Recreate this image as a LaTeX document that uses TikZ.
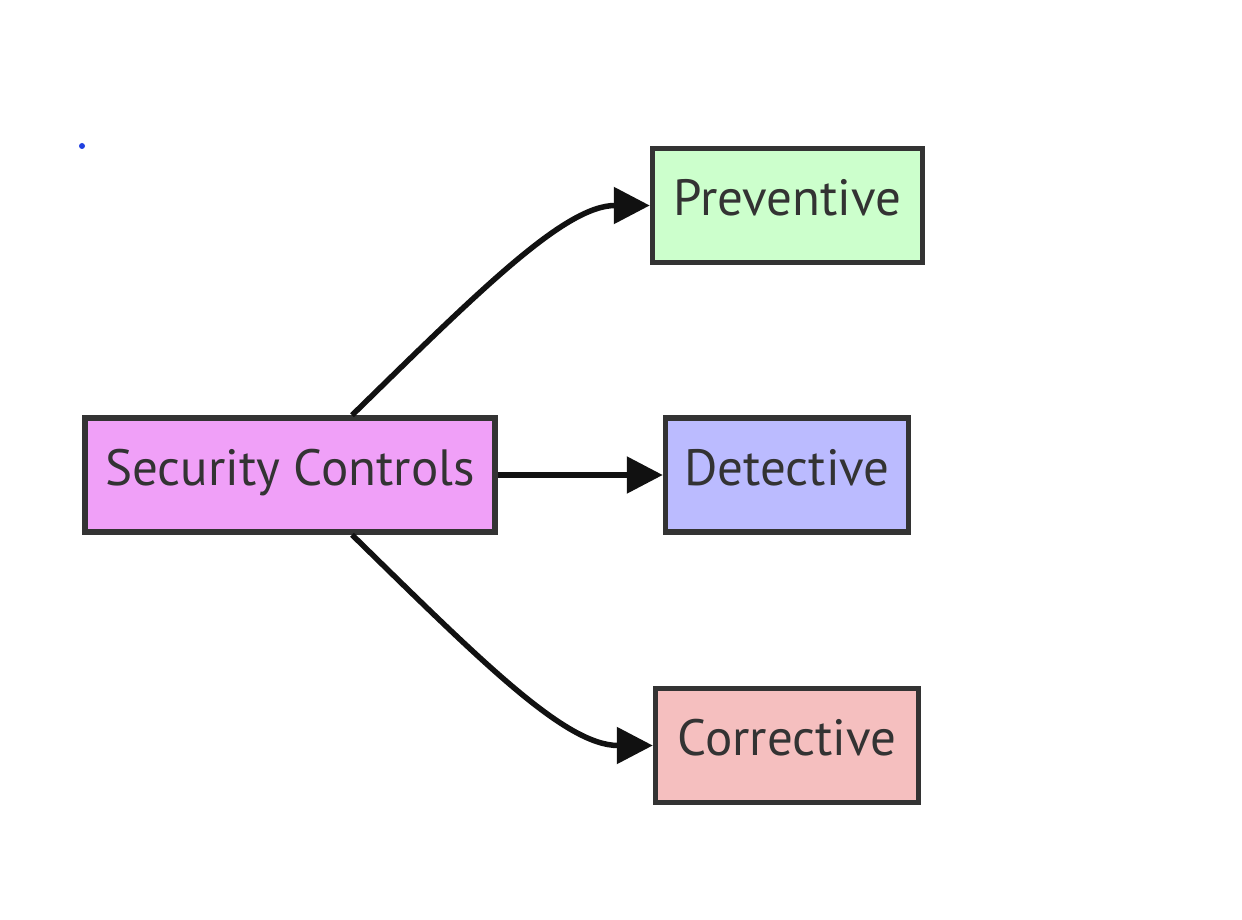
\documentclass[tikz,border=0pt]{standalone}
\usepackage{fontspec}
\setmainfont{PT Sans}
\usepackage{tikz}
\usetikzlibrary{arrows.meta,positioning,calc}
\usepackage{xcolor}
\definecolor{boxline}{RGB}{51,51,51}
\definecolor{arrowblack}{RGB}{17,17,17}
\definecolor{lightviolet}{RGB}{240,160,248}
\definecolor{lightgreen}{RGB}{204,255,204}
\definecolor{lightblue}{RGB}{187,187,255}
\definecolor{lightred}{RGB}{245,191,191}
\definecolor{dotblue}{RGB}{32,64,224}
\tikzset{
    ctrlnode/.style={
        rectangle,
        draw=boxline,
        line width=5.5pt,
        inner sep=0pt,
        minimum height=114pt,
        text height=36pt,
        text depth=16pt,
        text=boxline,
        font=\fontsize{51}{55}\selectfont,
        text centered
    },
    rootnode/.style={
        ctrlnode,
        minimum width=410pt,
        fill=lightviolet
    },
    prevnode/.style={
        ctrlnode,
        minimum width=270pt,
        fill=lightgreen
    },
    detnode/.style={
        ctrlnode,
        minimum width=243pt,
        fill=lightblue
    },
    corrnode/.style={
        ctrlnode,
        minimum width=263pt,
        fill=lightred
    },
    link/.style={
        -{Triangle[length=36pt,width=36pt]},
        arrowblack,
        line width=5.5pt
    }
}
\begin{document}
\begin{tikzpicture}[x=1pt,y=-1pt]
    \useasboundingbox (0,0) rectangle (1242,920);
    % Nodes
    \node[circle, fill=dotblue, inner sep=0pt, minimum size=6pt] (dot) at (82,146) {};
    \node[rootnode] (sec) at (290,475) {Security Controls};
    \node[prevnode] (prev) at (787.5,205.5) {Preventive};
    \node[detnode] (det) at (787,475) {Detective};
    \node[corrnode] (corr) at (787,745.5) {Corrective};

    % Connections
    \draw[link] ([xshift=62pt]sec.north) .. controls (480,290) and (565,205.5) .. (prev.west);
    \draw[link] (sec.east) -- (det.west);
    \draw[link] ([xshift=62pt]sec.south) .. controls (480,660) and (565,745.5) .. (corr.west);
\end{tikzpicture}
\end{document}
